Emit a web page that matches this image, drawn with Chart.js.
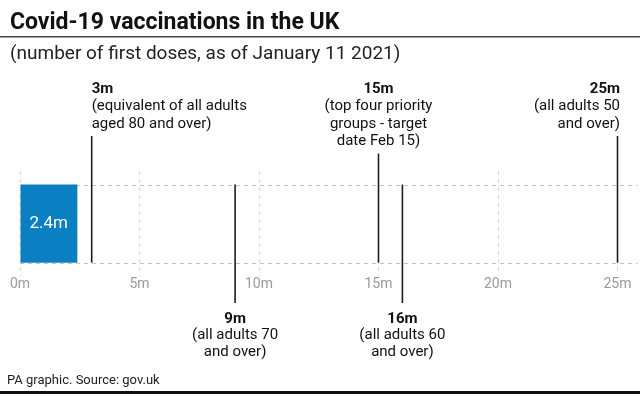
<!DOCTYPE html>
<html>
<head>
<meta charset="utf-8">
<script src="https://cdn.jsdelivr.net/npm/chart.js@4/dist/chart.umd.min.js"></script>
<style>
  html, body { margin: 0; padding: 0; background: #fff; }
  #wrap { width: 640px; height: 396px; position: relative; }
</style>
</head>
<body>
<div id="wrap"><canvas id="c" width="640" height="396"></canvas></div>
<script>
// ---- data ----
const categories = ['UK'];
const firstDoses = [2.4];
const barLabels = ['2.4m'];
const tickValues = [0, 5, 10, 15, 20, 25];
const tickLabels = ['0m', '5m', '10m', '15m', '20m', '25m'];
const markerValues = [3, 9, 15, 16, 25];
const markerHeads = ['3m', '9m', '15m', '16m', '25m'];
const markerNotes = [
  ['(equivalent of all adults', 'aged 80 and over)'],
  ['(all adults 70', 'and over)'],
  ['(top four priority', 'groups - target', 'date Feb 15)'],
  ['(all adults 60', 'and over)'],
  ['(all adults 50', 'and over)']
];
const titleText = 'Covid-19 vaccinations in the UK';
const subtitleText = '(number of first doses, as of January 11 2021)';
const sourceText = 'PA graphic. Source: gov.uk';

// ---- layout (not data) ----
const markerSide = ['above', 'below', 'above', 'below', 'above'];
const markerAlign = ['left', 'center', 'center', 'center', 'right'];
const FONT = 'Roboto, "Liberation Sans", sans-serif';

const decor = {
  id: 'decor',
  beforeDatasetsDraw(chart) {
    const ctx = chart.ctx;
    const xs = chart.scales.x;
    const bar = chart.getDatasetMeta(0).data[0];
    const top = bar.y - bar.height / 2;
    const bot = bar.y + bar.height / 2;
    ctx.save();
    ctx.strokeStyle = '#c4c4c4';
    ctx.lineWidth = 1;
    ctx.setLineDash([4, 4]);
    [top, bot].forEach(y => {
      ctx.beginPath();
      ctx.moveTo(xs.left, Math.round(y) + 0.5);
      ctx.lineTo(xs.right + 20, Math.round(y) + 0.5);
      ctx.stroke();
    });
    ctx.restore();
  },
  afterDatasetsDraw(chart) {
    const ctx = chart.ctx;
    const xs = chart.scales.x;
    const meta = chart.getDatasetMeta(0);
    ctx.save();
    meta.data.forEach((bar, i) => {
      ctx.fillStyle = '#ffffff';
      ctx.font = '17px ' + FONT;
      ctx.textAlign = 'center';
      ctx.textBaseline = 'middle';
      const left = xs.getPixelForValue(0);
      ctx.fillText(barLabels[i], (left + bar.x) / 2, bar.y);
    });
    const bar = meta.data[0];
    const top = bar.y - bar.height / 2;
    const bot = bar.y + bar.height / 2;
    const lh = 17.5;
    markerValues.forEach((v, i) => {
      const x = xs.getPixelForValue(v);
      const lines = [markerHeads[i]].concat(markerNotes[i]);
      let tx = x;
      if (markerAlign[i] === 'right') tx = x + 2.5;
      ctx.textAlign = markerAlign[i];
      ctx.textBaseline = 'middle';
      ctx.fillStyle = '#111';
      let y0, y1;
      if (markerSide[i] === 'above') {
        const firstY = 89;
        lines.forEach((t, k) => {
          ctx.font = (k === 0 ? 'bold ' : '') + '15px ' + FONT;
          ctx.fillText(t, tx, firstY + k * lh);
        });
        y0 = firstY + (lines.length - 1) * lh + 12;
        y1 = bot;
      } else {
        y0 = top;
        y1 = 303;
        lines.forEach((t, k) => {
          ctx.font = (k === 0 ? 'bold ' : '') + '15px ' + FONT;
          ctx.fillText(t, tx, y1 + 16 + k * 16.5);
        });
      }
      ctx.strokeStyle = '#1e1e1e';
      ctx.lineWidth = 1.6;
      ctx.beginPath();
      ctx.moveTo(x, y0);
      ctx.lineTo(x, y1);
      ctx.stroke();
    });
    ctx.restore();
  },
  afterDraw(chart) {
    const ctx = chart.ctx;
    ctx.save();
    ctx.fillStyle = '#111';
    ctx.textAlign = 'left';
    ctx.textBaseline = 'alphabetic';
    ctx.font = 'bold 23px ' + FONT;
    ctx.fillText(titleText, 10, 29);
    ctx.strokeStyle = '#444';
    ctx.lineWidth = 1.5;
    ctx.beginPath();
    ctx.moveTo(0, 36.75);
    ctx.lineTo(640, 36.75);
    ctx.stroke();
    ctx.font = '19px ' + FONT;
    ctx.fillStyle = '#222';
    ctx.fillText(subtitleText, 10, 59);
    ctx.font = '13px ' + FONT;
    ctx.fillStyle = '#222';
    ctx.fillText(sourceText, 7, 384);
    ctx.fillStyle = '#111';
    ctx.fillRect(0, 391, 640, 3);
    ctx.restore();
  }
};

new Chart(document.getElementById('c'), {
  type: 'bar',
  data: {
    labels: categories,
    datasets: [{
      data: firstDoses,
      backgroundColor: '#0a7fc1',
      borderWidth: 0,
      barPercentage: 1,
      categoryPercentage: 0.743
    }]
  },
  options: {
    indexAxis: 'y',
    responsive: false,
    animation: false,
    events: [],
    layout: { padding: { left: 20, right: 22.5, top: 171, bottom: 103 } },
    plugins: { legend: { display: false }, tooltip: { enabled: false } },
    scales: {
      y: { display: false },
      x: {
        min: 0,
        max: 25,
        border: { display: false, dash: [4, 4] },
        grid: {
          color: '#d6d6d6',
          lineWidth: 1,
          drawTicks: false
        },
        afterBuildTicks(scale) {
          scale.ticks = tickValues.map(v => ({ value: v }));
        },
        ticks: {
          padding: 0,
          color: '#9a9a9a',
          font: { family: 'Roboto', size: 14 },
          maxRotation: 0,
          callback: (v, i) => tickLabels[i]
        }
      }
    }
  },
  plugins: [decor]
});
</script>
</body>
</html>
